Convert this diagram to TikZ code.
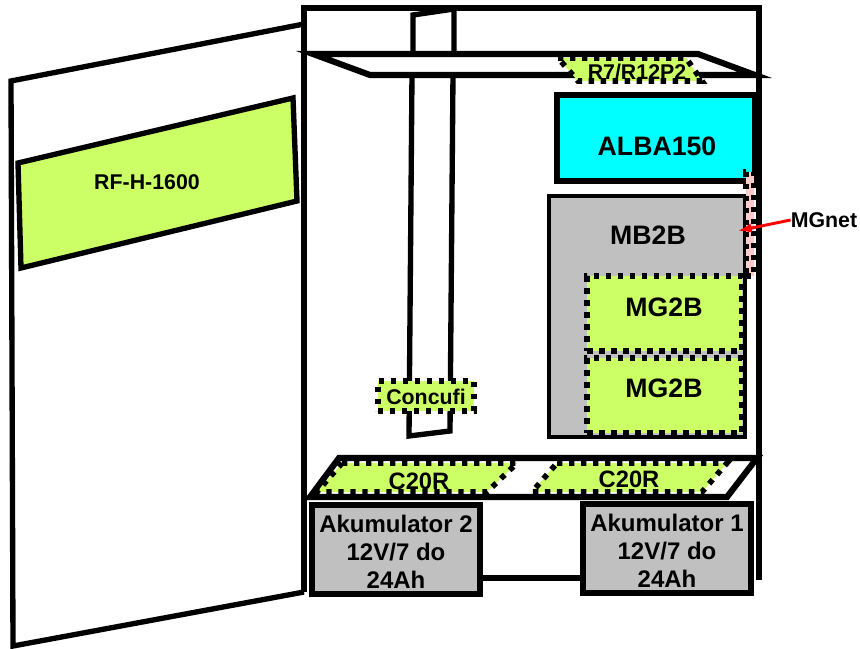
\documentclass[tikz,border=0pt]{standalone}
\usepackage{fontspec}
\usetikzlibrary{arrows.meta}
\setmainfont{Liberation Sans}
\definecolor{limefill}{HTML}{CCFF66}
\definecolor{boxgrey}{HTML}{C0C0C0}
\definecolor{netpink}{HTML}{FFCCCC}
\definecolor{albacyan}{HTML}{00FFFF}
\tikzset{
	wall/.style={draw=black,line width=4.6pt,line join=miter},
	thinwall/.style={draw=black,line width=4pt,line join=miter},
	solidbox/.style={draw=black,line width=4.6pt,inner sep=0pt,align=center},
	dotbox/.style={draw=black,fill=limefill,line width=4.2pt,dash pattern=on 4pt off 5pt,inner sep=0pt},
	biglabel/.style={font=\bfseries\fontsize{20}{24}\selectfont,inner sep=0pt},
	smalllabel/.style={font=\bfseries\fontsize{16}{18}\selectfont,inner sep=0pt},
	akulabel/.style={font=\bfseries\fontsize{18}{21}\selectfont,inner sep=0pt,align=center}
}
\begin{document}
\begin{tikzpicture}[x=0.75pt,y=-0.75pt]
	\useasboundingbox (0,0) rectangle (860,649);

	% cabinet
	\draw[wall] (304,592) -- (304,8) -- (759,8) -- (759,580);
	\draw[wall] (480,578) -- (583,578);

	% door
	\draw[thinwall] (304,24) -- (11,81) -- (13,646) -- (304,592);
	\draw[thinwall,fill=limefill] (18,163) -- (293,98) -- (297,201) -- (21,268) -- cycle;
	\node[smalllabel] (rfh) at (147,182) {RF-H-1600};

	% cable channel
	\draw[thinwall] (413,55) -- (413,15) -- (454,9) -- (454,55);
	\draw[thinwall] (412,74) -- (409,436) -- (450,431) -- (453,74);

	% top shelf
	\draw[wall] (370,75) -- (755,75) -- (698,54) -- (313,54) -- cycle;
	\coordinate (r7a) at (558,58);
	\coordinate (r7b) at (686,58);
	\coordinate (r7c) at (702,81);
	\coordinate (r7d) at (578,81);
	\draw[dotbox] (r7a) -- (r7b) -- (r7c) -- (r7d) -- cycle;
	\node[smalllabel] (r7) at (637,72) {R7/R12P2};

	% modules
	\node[solidbox,fill=albacyan,minimum width=148.5pt,minimum height=64.5pt] (alba) at (656,138) {};
	\node[biglabel] (albatext) at (657,146) {ALBA150};
	\node[draw=black,fill=boxgrey,line width=2.6pt,inner sep=0pt,minimum width=147pt,minimum height=181pt] (mb) at (647,316.5) {};
	\node[biglabel] (mbtext) at (648,235) {MB2B};
	\node[dotbox,minimum width=116pt,minimum height=56pt] (mga) at (664.5,313.5) {};
	\node[biglabel] (mgatext) at (664,307) {MG2B};
	\node[dotbox,minimum width=116pt,minimum height=56pt] (mgb) at (664.5,395.5) {};
	\node[biglabel] (mgbtext) at (664,388) {MG2B};

	% net cable
	\node[dotbox,fill=netpink,minimum width=6pt,minimum height=78pt] (net) at (750,224) {};
	\node[smalllabel] (mgnet) at (824,220) {MGnet};
	\draw[-{Latex[length=11pt,width=7pt]},red,line width=2.2pt] (mgnet.west) -- (737,231);

	% Concufi
	\node[dotbox,minimum width=72pt,minimum height=22.5pt] (conc) at (426,396) {};
	\node[smalllabel] (conctext) at (426,397) {Concufi};

	% bottom shelf
	\draw[wall] (310,497) -- (339,458) -- (757,458) -- (727,497) -- cycle;
	\draw[dotbox] (342,463) -- (517,463) -- (487,492) -- (317,492) -- cycle;
	\draw[dotbox] (557,463) -- (727,463) -- (702,492) -- (532,492) -- cycle;
	\node[font=\bfseries\fontsize{17.8}{20}\selectfont,inner sep=0pt] (ca) at (419,481) {C20R};
	\node[font=\bfseries\fontsize{17.8}{20}\selectfont,inner sep=0pt] (cb) at (629,479) {C20R};

	% batteries
	\node[solidbox,fill=boxgrey,minimum width=126pt,minimum height=66.5pt] (akub) at (396,549.5) {};
	\node[akulabel] (akubtext) at (396,552) {Akumulator 2\\12V/7 do\\24Ah};
	\node[solidbox,fill=boxgrey,minimum width=126pt,minimum height=66.5pt] (akua) at (667,548.5) {};
	\node[akulabel] (akuatext) at (667,551) {Akumulator 1\\12V/7 do\\24Ah};
\end{tikzpicture}
\end{document}
